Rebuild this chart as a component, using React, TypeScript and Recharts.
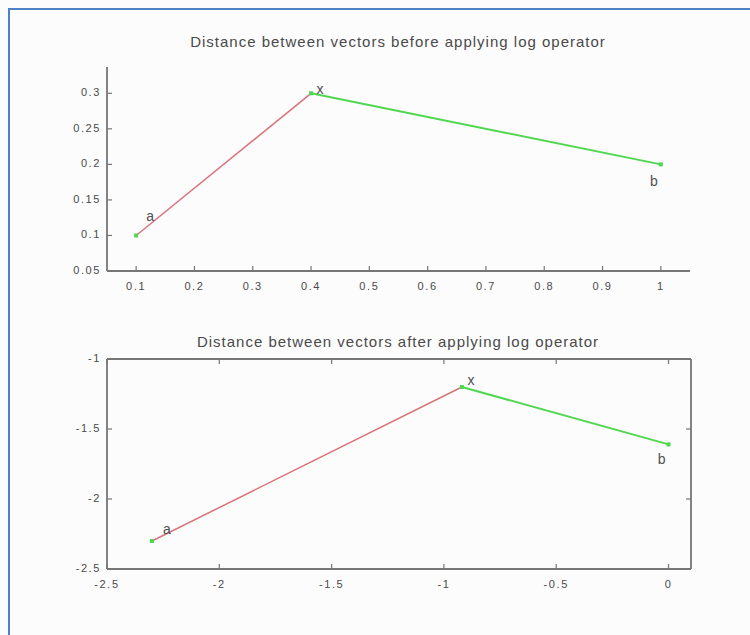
import { ComposedChart, Line, Scatter, XAxis, YAxis } from 'recharts'

// point names and coordinates, before and after taking the log
const names = ['a', 'x', 'b']
const beforeX = [0.1, 0.4, 1]
const beforeY = [0.1, 0.3, 0.2]
const afterX = [-2.3, -0.92, 0]
const afterY = [-2.3, -1.2, -1.61]

const beforeXTicks = [0.1, 0.2, 0.3, 0.4, 0.5, 0.6, 0.7, 0.8, 0.9, 1]
const beforeYTicks = [0.05, 0.1, 0.15, 0.2, 0.25, 0.3]
const afterXTicks = [-2.5, -2, -1.5, -1, -0.5, 0]
const afterYTicks = [-2.5, -2, -1.5, -1]

const AXIS = '#767676'
const TEXT = '#4a4a4a'
const RED = '#d6737b'
const GREEN = '#4fd84f'
const FONT = '"Liberation Sans", Arial, sans-serif'

// pixel offsets of the a / x / b text from its point
const labelOffsetTop: Record<string, [number, number]> = { a: [14, -18], x: [9, -3], b: [-7, 18] }
const labelOffsetBottom: Record<string, [number, number]> = { a: [15, -11], x: [9, -6], b: [-7, 16] }

const toPoints = (xs: number[], ys: number[]) => xs.map((x, i) => ({ x, y: ys[i], name: names[i] }))

const tickText = { fill: TEXT, fontSize: 11, fontFamily: FONT, letterSpacing: 1.6 }

const bottomTick = (p: any) => (
  <g>
    <line x1={p.x} y1={p.y} x2={p.x} y2={p.y - 5} stroke={AXIS} strokeWidth={1.2} />
    <text x={p.x} y={p.y + 16} textAnchor="middle" dominantBaseline="middle" {...tickText}>
      {p.payload.value}
    </text>
  </g>
)
const topTick = (p: any) => (
  <line x1={p.x} y1={p.y} x2={p.x} y2={p.y + 5} stroke={AXIS} strokeWidth={1.2} />
)
const leftTick = (p: any) => (
  <g>
    <line x1={p.x} y1={p.y} x2={p.x + 5} y2={p.y} stroke={AXIS} strokeWidth={1.2} />
    <text x={p.x - 6} y={p.y} textAnchor="end" dominantBaseline="middle" {...tickText}>
      {p.payload.value}
    </text>
  </g>
)
const rightTick = (p: any) => (
  <line x1={p.x} y1={p.y} x2={p.x - 5} y2={p.y} stroke={AXIS} strokeWidth={1.2} />
)

const pointShape = (offsets: Record<string, [number, number]>) => (p: any) => {
  const [dx, dy] = offsets[p.payload.name]
  return (
    <g>
      <rect x={p.cx - 2} y={p.cy - 2} width={4} height={4} fill={GREEN} />
      <text
        x={p.cx + dx}
        y={p.cy + dy}
        textAnchor="middle"
        dominantBaseline="middle"
        fill="#505050"
        fontSize={14}
        fontFamily={FONT}
      >
        {p.payload.name}
      </text>
    </g>
  )
}

const Title = ({ top, children }: { top: number; children: string }) => (
  <div
    style={{
      position: 'absolute',
      left: 398 - 300,
      width: 600,
      top: top - 9,
      height: 18,
      lineHeight: '18px',
      textAlign: 'center',
      fontFamily: FONT,
      fontSize: 15,
      letterSpacing: 1,
      color: TEXT,
    }}
  >
    {children}
  </div>
)

const axisLine = { stroke: AXIS, strokeWidth: 1.8 }

function BeforeChart() {
  const pts = toPoints(beforeX, beforeY)
  return (
    <ComposedChart width={750} height={300} margin={{ top: 67, right: 60, bottom: 28, left: 106 }}>
      <XAxis
        type="number"
        dataKey="x"
        domain={[0.05, 1.05]}
        ticks={beforeXTicks}
        interval={0}
        allowDataOverflow
        height={1}
        tickSize={0}
        tickMargin={0}
        tick={bottomTick}
        axisLine={axisLine}
      />
      <YAxis
        type="number"
        dataKey="y"
        domain={[0.05, 0.337]}
        ticks={beforeYTicks}
        interval={0}
        allowDataOverflow
        width={1}
        tickSize={0}
        tickMargin={0}
        tick={leftTick}
        axisLine={axisLine}
      />
      <Line data={pts.slice(0, 2)} dataKey="y" stroke={RED} strokeWidth={1.5} dot={false} isAnimationActive={false} />
      <Line data={pts.slice(1, 3)} dataKey="y" stroke={GREEN} strokeWidth={2} dot={false} isAnimationActive={false} />
      <Scatter data={pts} dataKey="y" shape={pointShape(labelOffsetTop)} isAnimationActive={false} />
    </ComposedChart>
  )
}

function AfterChart() {
  const pts = toPoints(afterX, afterY)
  return (
    <ComposedChart width={750} height={335} margin={{ top: 58, right: 58, bottom: 65, left: 106 }}>
      <XAxis
        xAxisId="b"
        type="number"
        dataKey="x"
        domain={[-2.5, 0.1]}
        ticks={afterXTicks}
        interval={0}
        allowDataOverflow
        height={1}
        tickSize={0}
        tickMargin={0}
        tick={bottomTick}
        axisLine={axisLine}
      />
      <XAxis
        xAxisId="t"
        orientation="top"
        type="number"
        dataKey="x"
        domain={[-2.5, 0.1]}
        ticks={afterXTicks}
        interval={0}
        allowDataOverflow
        height={1}
        tickSize={0}
        tickMargin={0}
        tick={topTick}
        axisLine={axisLine}
      />
      <YAxis
        yAxisId="l"
        type="number"
        dataKey="y"
        domain={[-2.5, -1]}
        ticks={afterYTicks}
        interval={0}
        allowDataOverflow
        width={1}
        tickSize={0}
        tickMargin={0}
        tick={leftTick}
        axisLine={axisLine}
      />
      <YAxis
        yAxisId="r"
        orientation="right"
        type="number"
        dataKey="y"
        domain={[-2.5, -1]}
        ticks={afterYTicks}
        interval={0}
        allowDataOverflow
        width={1}
        tickSize={0}
        tickMargin={0}
        tick={rightTick}
        axisLine={axisLine}
      />
      <Line xAxisId="b" yAxisId="l" data={pts.slice(0, 2)} dataKey="y" stroke={RED} strokeWidth={1.5} dot={false} isAnimationActive={false} />
      <Line xAxisId="b" yAxisId="l" data={pts.slice(1, 3)} dataKey="y" stroke={GREEN} strokeWidth={2} dot={false} isAnimationActive={false} />
      <Scatter xAxisId="b" yAxisId="l" data={pts} dataKey="y" shape={pointShape(labelOffsetBottom)} isAnimationActive={false} />
    </ComposedChart>
  )
}

export default function App() {
  return (
    <div
      style={{
        position: 'absolute',
        left: 0,
        top: 0,
        width: 750,
        height: 635,
        overflow: 'hidden',
        background: '#fcfcfc',
      }}
    >
      <div
        style={{
          position: 'absolute',
          left: 8,
          top: 8,
          width: 760,
          height: 640,
          borderLeft: '2px solid #4f7fc4',
          borderTop: '2px solid #4f7fc4',
        }}
      />
      <div style={{ position: 'absolute', left: 0, top: 0 }}>
        <BeforeChart />
      </div>
      <div style={{ position: 'absolute', left: 0, top: 300 }}>
        <AfterChart />
      </div>
      <Title top={42}>Distance between vectors before applying log operator</Title>
      <Title top={342}>Distance between vectors after applying log operator</Title>
    </div>
  )
}
